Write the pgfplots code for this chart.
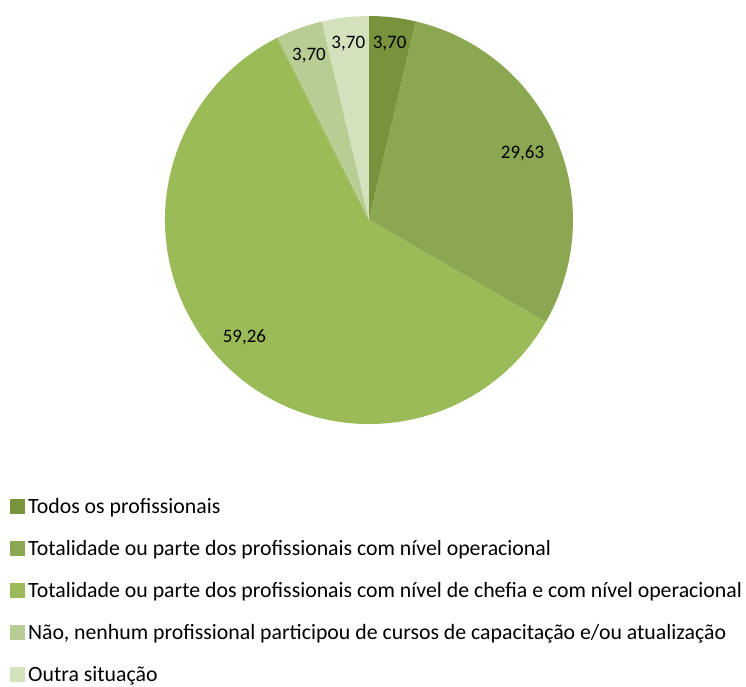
\documentclass[border=0pt]{standalone}
\usepackage{pgfplots}
\pgfplotsset{compat=1.18}
\usepackage{pgfplotstable}
\usepackage{fontspec}
\setmainfont{Carlito}

\definecolor{slice0}{HTML}{77933C}
\definecolor{slice1}{HTML}{8CA752}
\definecolor{slice2}{HTML}{9BBB59}
\definecolor{slice3}{HTML}{B8CD93}
\definecolor{slice4}{HTML}{D4E1BD}

% share (%) and label radius of each slice, clockwise from 12 o'clock
\pgfplotstableread{
value lr
3.70  0.87
29.63 0.82
59.26 0.84
3.70  0.86
3.70  0.87
}\piedata

\begin{document}
\begin{tikzpicture}
\path (0pt,0pt) rectangle (746pt,-687pt);

% start / end / middle angle of each slice
\def\piecum{0}
\pgfplotsforeachungrouped \i in {0,...,4}{%
  \pgfplotstablegetelem{\i}{value}\of\piedata
  \let\pieval\pgfplotsretval
  \pgfplotstablegetelem{\i}{lr}\of\piedata
  \let\pielr\pgfplotsretval
  \pgfmathsetmacro\piestart{90-3.6*\piecum}%
  \pgfmathsetmacro\pieend{\piestart-3.6*\pieval}%
  \pgfmathsetmacro\piemid{(\piestart+\pieend)/2}%
  \expandafter\xdef\csname s\i\endcsname{\piestart}%
  \expandafter\xdef\csname e\i\endcsname{\pieend}%
  \expandafter\xdef\csname m\i\endcsname{\piemid}%
  \expandafter\xdef\csname v\i\endcsname{\pieval}%
  \expandafter\xdef\csname r\i\endcsname{\pielr}%
  \pgfmathsetmacro\piecum{\piecum+\pieval}%
}

\begin{axis}[
    at={(369pt,-220pt)}, anchor=center,
    scale only axis, width=408pt, height=408pt,
    xmin=-1, xmax=1, ymin=-1, ymax=1,
    hide axis, clip=false,
    legend image code/.code={\fill[#1,draw=none] (0pt,-7.5pt) rectangle (15pt,7.5pt);},
    legend style={at={(axis description cs:-0.38,-0.177)}, anchor=north west,
      draw=none, fill=none, inner sep=0pt, row sep=21.3pt,
      font=\fontsize{21.8}{25}\selectfont,
      nodes={inner xsep=3pt},
      cells={anchor=west}},
  ]
  \pgfplotsinvokeforeach{0,...,4}{
    \fill[slice#1] (0,0) -- ({cos(\csname s#1\endcsname)},{sin(\csname s#1\endcsname)})
      arc[start angle=\csname s#1\endcsname, end angle=\csname e#1\endcsname, radius=1] -- cycle;
  }
  \pgfplotsinvokeforeach{0,...,4}{
    \node[font=\fontsize{19}{22}\selectfont]
      at ({\csname r#1\endcsname*cos(\csname m#1\endcsname)},{\csname r#1\endcsname*sin(\csname m#1\endcsname)})
      {\pgfmathprintnumber[fixed,fixed zerofill,precision=2,use comma,assume math mode=true]{\csname v#1\endcsname}};
  }
  \addlegendimage{fill=slice0}
  \addlegendentry{Todos os profissionais}
  \addlegendimage{fill=slice1}
  \addlegendentry{Totalidade ou parte dos profissionais com nível operacional}
  \addlegendimage{fill=slice2}
  \addlegendentry{Totalidade ou parte dos profissionais com nível de chefia e com nível operacional}
  \addlegendimage{fill=slice3}
  \addlegendentry{Não, nenhum profissional participou de cursos de capacitação e/ou atualização}
  \addlegendimage{fill=slice4}
  \addlegendentry{Outra situação}
\end{axis}
\end{tikzpicture}
\end{document}
